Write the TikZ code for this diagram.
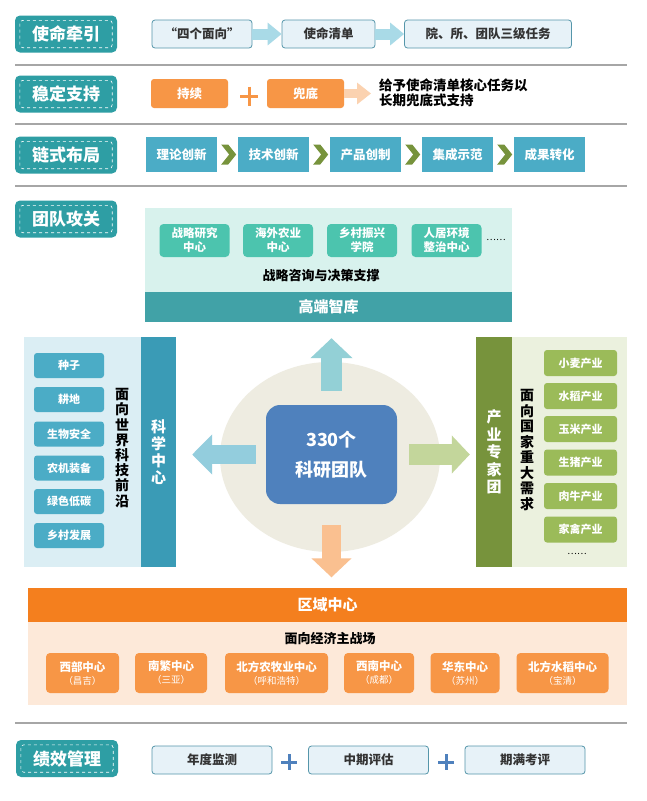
\documentclass[tikz,border=0pt]{standalone}
\usepackage{fontspec}
\setmainfont{Noto Sans CJK SC}
\usepackage{tikz}
\usepackage{xcolor}
\usetikzlibrary{arrows.meta,calc,positioning,shapes.geometric}

\definecolor{tagc}{HTML}{2E9EA4}
\definecolor{qfill}{HTML}{E7F2F8}
\definecolor{qline}{HTML}{5596AA}
\definecolor{qarrc}{HTML}{A9DAE7}
\definecolor{orgc}{HTML}{F79646}
\definecolor{peachc}{HTML}{FBD2B0}
\definecolor{chainc}{HTML}{4BACC6}
\definecolor{chevc}{HTML}{77933C}
\definecolor{tankbg}{HTML}{D8F2ED}
\definecolor{tankc}{HTML}{41A2A7}
\definecolor{mintc}{HTML}{4CC4AE}
\definecolor{scibg}{HTML}{DBEEF4}
\definecolor{scic}{HTML}{3A9BB6}
\definecolor{ringc}{HTML}{EEECE1}
\definecolor{corec}{HTML}{4F81BD}
\definecolor{upc}{HTML}{93D0D6}
\definecolor{leftc}{HTML}{93CDDD}
\definecolor{rightc}{HTML}{C3D69B}
\definecolor{downc}{HTML}{FAC090}
\definecolor{indbg}{HTML}{EBF1DE}
\definecolor{indc}{HTML}{9BBB59}
\definecolor{regc}{HTML}{F47F1E}
\definecolor{regbg}{HTML}{FDE9D9}
\definecolor{sepc}{HTML}{A6A6A6}
\definecolor{txtc}{HTML}{333333}

\begin{document}
\begin{tikzpicture}[x=1pt,y=-1pt,every node/.style={inner sep=0pt},
  tag/.style={rectangle,rounded corners=5pt,fill=tagc,minimum width=102,minimum height=37,text=white,font=\fontsize{17}{20}\selectfont\bfseries},
  qbox/.style={rectangle,rounded corners=3pt,draw=qline,line width=0.8pt,fill=qfill,minimum height=28,text=txtc,font=\fontsize{12.5}{15}\selectfont\bfseries},
  qarr/.style={line width=11pt,qarrc,-{Triangle[length=14pt,width=22pt]}},
  obox/.style={rectangle,rounded corners=3pt,fill=orgc,minimum width=77,minimum height=29,text=white,font=\fontsize{12.5}{15}\selectfont\bfseries},
  plus/.style={minimum width=18,minimum height=19,path picture={\draw[line width=3pt,#1] (path picture bounding box.north) -- (path picture bounding box.south) (path picture bounding box.west) -- (path picture bounding box.east);}},
  cbox/.style={rectangle,fill=chainc,minimum width=71,minimum height=35,text=white,font=\fontsize{12.5}{15}\selectfont\bfseries},
  mbox/.style={rectangle,rounded corners=4pt,fill=mintc,minimum width=70,minimum height=33,text=white,align=center,font=\fontsize{11.5}{14}\selectfont\bfseries},
  kbox/.style={rectangle,rounded corners=3pt,fill=chainc,minimum width=70,minimum height=25,text=white,font=\fontsize{11}{13}\selectfont\bfseries},
  nbox/.style={rectangle,rounded corners=3pt,fill=indc,minimum width=73,minimum height=26,text=white,font=\fontsize{11}{13}\selectfont\bfseries},
  rbox/.style={rectangle,rounded corners=4pt,fill=orgc,minimum height=40,text=white,align=center,font=\fontsize{11.5}{13}\selectfont\bfseries},
  pbox/.style={rectangle,rounded corners=3pt,draw=qline,line width=0.8pt,fill=qfill,minimum width=120,minimum height=28,text=txtc,font=\fontsize{12.5}{15}\selectfont\bfseries},
  sep/.style={sepc,line width=1.5pt},
  blockarr/.style={line width=#1}]

\fill[white] (0,0) rectangle (646,801);
\useasboundingbox (0,0) rectangle (646,801);

% tags on the left
\node (t1) at (66,34) [tag] {使命牵引};
\node (t2) at (66,94) [tag] {稳定支持};
\node (t3) at (66,155) [tag] {链式布局};
\node (t4) at (66,219) [tag] {团队攻关};
\node (t5) at (67,758.5) [tag] {绩效管理};
\foreach \t in {t1,t2,t3,t4,t5}
  \draw[white,dashed,line width=0.6pt,rounded corners=3pt] ($(\t.south west)+(5,-5)$) rectangle ($(\t.north east)+(-5,5)$);

% separators
\draw[sep] (15,65) -- (627,65);
\draw[sep] (15,124) -- (627,124);
\draw[sep] (15,186) -- (627,186);
\draw[sep] (15,723) -- (627,723);

% row 1
\node (q1) at (202,34) [qbox,minimum width=100] {“四个面向”};
\node (q2) at (328.5,34) [qbox,minimum width=93] {使命清单};
\node (q3) at (488,34) [qbox,minimum width=167] {院、所、团队三级任务};
\draw[qarr] (q1.east) -- (q2.west);
\draw[qarr] (q2.east) -- (q3.west);

% row 2
\node (d1) at (189.5,93.5) [obox] {持续};
\node (p1) at (249,96) [plus=orgc] {};
\node (d2) at (305.5,93.5) [obox] {兜底};
\node (s1) at (379,93) [anchor=west,align=left,font=\fontsize{13.5}{15}\selectfont\bfseries] {给予使命清单核心任务以\\长期兜底式支持};
\draw[line width=9pt,peachc,-{Triangle[length=14pt,width=21pt]},shorten >=8pt] (d2.east) -- (s1.west |- d2.east);

% row 3
\node (c1) at (181.5,154.5) [cbox] {理论创新};
\node (c2) at (273.5,154.5) [cbox] {技术创新};
\node (c3) at (365.5,154.5) [cbox] {产品创制};
\node (c4) at (457.5,154.5) [cbox] {集成示范};
\node (c5) at (549.5,154.5) [cbox] {成果转化};
\foreach \a in {c1,c2,c3,c4}
  \fill[chevc] ($(\a.east)+(4,-10)$) -- ++(7,0) -- ++(8,10) -- ++(-8,10) -- ++(-7,0) -- ++(8,-10) -- cycle;

% think tank
\node (tank) at (328.5,250) [fill=tankbg,minimum width=367,minimum height=84] {};
\node (band) at (328.5,307) [fill=tankc,minimum width=367,minimum height=30,text=white,font=\fontsize{15}{18}\selectfont\bfseries] {高端智库};
\node (z1) at (194.5,240.5) [mbox] {战略研究\\中心};
\node (z2) at (278,240.5) [mbox] {海外农业\\中心};
\node (z3) at (362,240.5) [mbox] {乡村振兴\\学院};
\node (z4) at (446.5,240.5) [mbox] {人居环境\\整治中心};
\node (zd) at (496,240) [font=\fontsize{9}{10}\selectfont] {……};
\node (zt) at (321,276) [font=\fontsize{13}{15}\selectfont\bfseries] {战略咨询与决策支撑};

% science centre
\node (sci) at (82.25,452) [fill=scibg,minimum width=117.5,minimum height=230] {};
\node (sciband) at (158.5,452) [fill=scic,minimum width=35,minimum height=230,text=white,align=center,font=\fontsize{15}{17}\selectfont\bfseries] {科\\学\\中\\心};
\node (k1) at (69,365.5) [kbox] {种子};
\node (k2) at (69,399.5) [kbox] {耕地};
\node (k3) at (69,434) [kbox] {生物安全};
\node (k4) at (69,468) [kbox] {农机装备};
\node (k5) at (69,501.5) [kbox] {绿色低碳};
\node (k6) at (69,535.5) [kbox] {乡村发展};
\node (kv) at (122,448) [align=center,font=\fontsize{14}{15.2}\selectfont\bfseries] {面\\向\\世\\界\\科\\技\\前\\沿};

% industry expert group
\node (ind) at (569.5,452) [fill=indbg,minimum width=115,minimum height=230] {};
\node (indband) at (494,452) [fill=chevc,minimum width=36,minimum height=230,text=white,align=center,font=\fontsize{15}{17.5}\selectfont\bfseries] {产\\业\\专\\家\\团};
\node (n1) at (580.5,363) [nbox] {小麦产业};
\node (n2) at (580.5,396) [nbox] {水稻产业};
\node (n3) at (580.5,429) [nbox] {玉米产业};
\node (n4) at (580.5,462.5) [nbox] {生猪产业};
\node (n5) at (580.5,496) [nbox] {肉牛产业};
\node (n6) at (580.5,529.5) [nbox] {家禽产业};
\node (nd) at (577,554) [font=\fontsize{9}{10}\selectfont] {……};
\node (nv) at (527,450) [align=center,font=\fontsize{14}{15.5}\selectfont\bfseries] {面\\向\\国\\家\\重\\大\\需\\求};

% regional centre
\node (reg) at (327.5,604.5) [fill=regc,minimum width=599,minimum height=34,text=white,font=\fontsize{15}{18}\selectfont\bfseries] {区域中心};
\node (regb) at (327.5,663.5) [fill=regbg,minimum width=599,minimum height=83] {};
\node (rt) at (330,639) [font=\fontsize{13}{15}\selectfont\bfseries] {面向经济主战场};
\node (r1) at (82.5,673) [rbox,minimum width=73] {西部中心\\{\fontsize{9.5}{12}\selectfont\mdseries （昌吉）}};
\node (r2) at (171,673) [rbox,minimum width=72] {南繁中心\\{\fontsize{9.5}{12}\selectfont\mdseries （三亚）}};
\node (r3) at (276.5,673) [rbox,minimum width=103] {北方农牧业中心\\{\fontsize{9.5}{12}\selectfont\mdseries （呼和浩特）}};
\node (r4) at (379,673) [rbox,minimum width=70] {西南中心\\{\fontsize{9.5}{12}\selectfont\mdseries （成都）}};
\node (r5) at (465,673) [rbox,minimum width=69] {华东中心\\{\fontsize{9.5}{12}\selectfont\mdseries （苏州）}};
\node (r6) at (562.5,673) [rbox,minimum width=92] {北方水稻中心\\{\fontsize{9.5}{12}\selectfont\mdseries （宝清）}};

% core
\node (ring) at (330,457) [ellipse,fill=ringc,minimum width=220,minimum height=190] {};
\node (core) at (331.5,454.5) [rectangle,rounded corners=14pt,fill=corec,minimum width=131,minimum height=99,text=white,align=center,font=\fontsize{18}{30}\selectfont\bfseries] {330个\\科研团队};
\draw[line width=21pt,upc,-{Triangle[length=20pt,width=41pt]},shorten <=14pt,shorten >=16pt] (core.north) -- (core.north |- band.south);
\draw[line width=19pt,leftc,-{Triangle[length=20pt,width=39pt]},shorten <=10pt,shorten >=16pt] (core.west) -- (core.west -| sciband.east);
\draw[line width=21pt,rightc,-{Triangle[length=18pt,width=37pt]},shorten <=12pt,shorten >=6pt] (core.east) -- (core.east -| indband.west);
\draw[line width=19pt,downc,-{Triangle[length=19pt,width=39pt]},shorten <=21pt,shorten >=10pt] (core.south) -- (core.south |- reg.north);

% performance
\node (m1) at (212,760) [pbox] {年度监测};
\node (m2) at (368.5,760) [pbox] {中期评估};
\node (m3) at (525,760) [pbox] {期满考评};
\node (p2) at (289,762) [plus=corec,minimum width=16,minimum height=16] {};
\node (p3) at (446,762) [plus=corec,minimum width=16,minimum height=16] {};

\end{tikzpicture}
\end{document}
